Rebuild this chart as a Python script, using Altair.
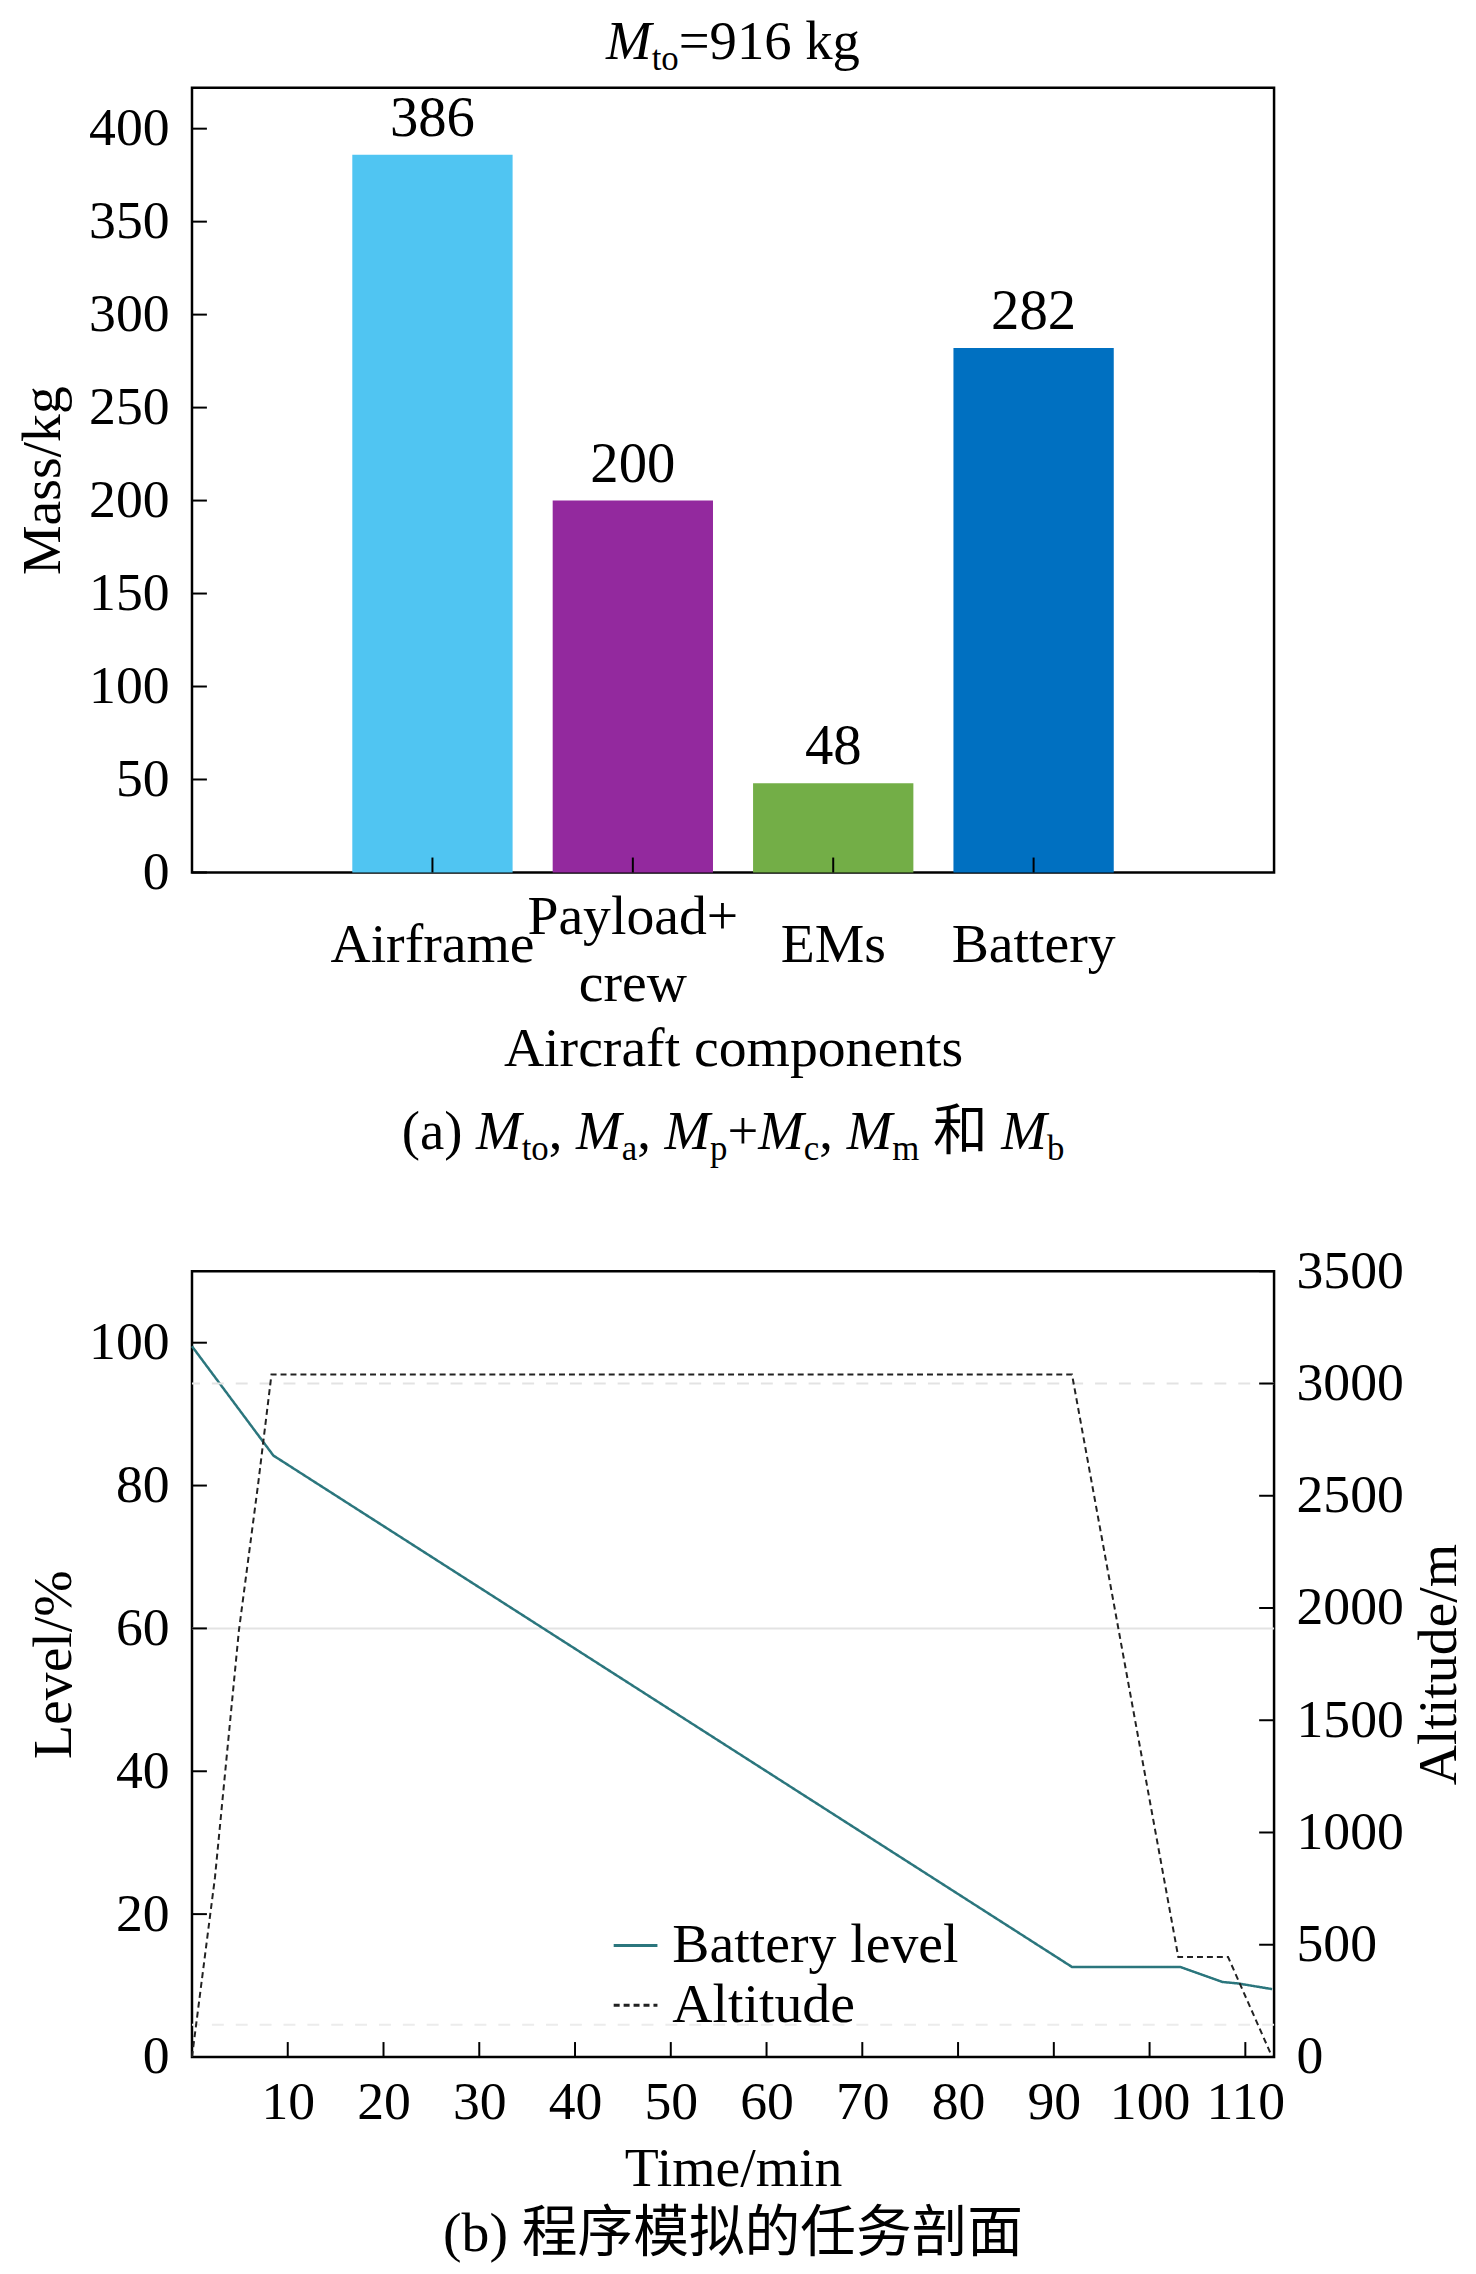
import altair as alt
import pandas as pd

# ---------------- data ----------------
components = ["Airframe", "Payload+crew", "EMs", "Battery"]
xlabel_line1 = ["Airframe", "Payload+", "EMs", "Battery"]
xlabel_line2 = ["", "crew", "", ""]
masses = [386, 200, 48, 282]
bar_colors = ["#50C5F2", "#93299E", "#73AE47", "#0070C1"]
mass_ticks = [0, 50, 100, 150, 200, 250, 300, 350, 400]

batt_time = [0, 7.5, 8.5, 91.9, 103.2, 107.6, 109.2, 112.8]
batt_level = [99.5, 86.0, 84.2, 12.6, 12.6, 10.5, 10.3, 9.5]
alt_time = [0, 2.4, 4.9, 6.9, 8.3, 91.9, 103.0, 108.2, 112.8]
alt_value = [0, 800, 1900, 2550, 3040, 3040, 445, 445, 0]

time_ticks = [10, 20, 30, 40, 50, 60, 70, 80, 90, 100, 110]
level_ticks = [0, 20, 40, 60, 80, 100]
altitude_ticks = [0, 500, 1000, 1500, 2000, 2500, 3000, 3500]
series_names = ["Battery level", "Altitude"]

title_a = [("M", "it"), ("to", "sub"), ("=916 kg", "rm")]
caption_a = [("(a) ", "rm"), ("M", "it"), ("to", "sub"), (", ", "rm"), ("M", "it"), ("a", "sub"),
             (", ", "rm"), ("M", "it"), ("p", "sub"), ("+", "rm"), ("M", "it"), ("c", "sub"),
             (", ", "rm"), ("M", "it"), ("m", "sub"), (" ", "rm"), ("和", "cjk"), (" ", "rm"),
             ("M", "it"), ("b", "sub")]
caption_b = "(b) 程序模拟的任务剖面"

# ---------------- styling ----------------
SERIF = "Liberation Serif"
CJK = "Noto Sans CJK SC"
MIXED = "Liberation Serif, Noto Sans CJK SC"
FS = 54      # tick labels
FT = 56      # titles, category labels, legend, captions
W1, H1 = 1088, 789
W2, H2 = 1088, 790

STYLES = {
    "rm": dict(font=SERIF, fontSize=55, fontStyle="normal", dy=0),
    "it": dict(font=SERIF, fontSize=55, fontStyle="italic", dy=0),
    "sub": dict(font=SERIF, fontSize=35, fontStyle="normal", dy=17),
    "cjk": dict(font=CJK, fontSize=55, fontStyle="normal", dy=0),
}
REG_W = {' ': 0.25, '(': 0.333, ')': 0.333, 'a': 0.444, 'b': 0.5, 'c': 0.444, 'm': 0.778,
         'o': 0.5, 'p': 0.5, 't': 0.278, ',': 0.25, '+': 0.564, '=': 0.564, 'k': 0.5, 'g': 0.5}
IT_W = {'M': 0.833}


def seg_width(t, s):
    size = STYLES[s]["fontSize"]
    tot = 0.0
    for ch in t:
        if s == "cjk" and ord(ch) > 255:
            tot += 1.0
        elif s == "it":
            tot += IT_W.get(ch, 0.5)
        else:
            tot += REG_W.get(ch, 0.5 if ord(ch) < 256 else 1.0)
    return tot * size


def text_layers(pieces, center_x, y):
    total = sum(seg_width(t, s) for t, s in pieces)
    x = center_x - total / 2
    out = []
    for t, s in pieces:
        w = seg_width(t, s)
        txt = t.strip()
        if txt:
            lead = (len(t) - len(t.lstrip())) * 0.25 * STYLES[s]["fontSize"]
            st = STYLES[s]
            out.append(
                alt.Chart(pd.DataFrame({"t": [txt]}))
                .mark_text(align="left", baseline="middle", font=st["font"], fontSize=st["fontSize"],
                           fontStyle=st["fontStyle"], color="black")
                .encode(text="t:N", x=alt.value(x + lead), y=alt.value(y + st["dy"]))
            )
        x += w
    return out


# ---------------- chart (a) ----------------
bars_df = pd.DataFrame({"comp": components, "mass": masses, "l1": xlabel_line1, "l2": xlabel_line2})
yticks_df = pd.DataFrame({"mass": mass_ticks})

x_axis_a = alt.Axis(title="Aircraft components", labels=False, titleFontSize=FT,
                    titleY=177, titleBaseline="middle", titleAlign="center")
x_enc_a = alt.X("comp:N", sort=components,
                scale=alt.Scale(paddingInner=0.2, paddingOuter=0.8), axis=x_axis_a)
y_axis_a = alt.Axis(title="Mass/kg", values=mass_ticks, labelPadding=23, titleFontSize=FT,
                    titleAngle=270, titleX=-150, titleY=H1 / 2, titleAlign="center",
                    titleBaseline="middle")
y_enc_a = alt.Y("mass:Q", scale=alt.Scale(domain=[0, 422], nice=False), axis=y_axis_a)

bars = alt.Chart(bars_df).mark_bar().encode(
    x=x_enc_a, y=y_enc_a,
    color=alt.Color("comp:N", scale=alt.Scale(domain=components, range=bar_colors), legend=None),
)
bar_labels = alt.Chart(bars_df).mark_text(dy=-36, baseline="middle", font=SERIF, fontSize=57,
                                          color="black").encode(x=x_enc_a, y=y_enc_a, text="mass:Q")
ytick_a = alt.Chart(yticks_df).mark_rule(color="black", strokeWidth=2).encode(
    y=y_enc_a, x=alt.value(0), x2=alt.value(15))
xtick_a = alt.Chart(bars_df).mark_rule(color="black", strokeWidth=2).encode(
    x=x_enc_a, y=alt.value(H1 - 15), y2=alt.value(H1))

lab_kw = dict(baseline="middle", font=SERIF, fontSize=FT, color="black")
xlab_single = alt.Chart(bars_df).transform_filter("datum.l2 == ''").mark_text(**lab_kw).encode(
    x=x_enc_a, y=alt.value(H1 + 73), text="l1:N")
xlab_top = alt.Chart(bars_df).transform_filter("datum.l2 != ''").mark_text(**lab_kw).encode(
    x=x_enc_a, y=alt.value(H1 + 45), text="l1:N")
xlab_bot = alt.Chart(bars_df).transform_filter("datum.l2 != ''").mark_text(**lab_kw).encode(
    x=x_enc_a, y=alt.value(H1 + 112), text="l2:N")

chart_a = alt.layer(
    bars, bar_labels, ytick_a, xtick_a, xlab_single, xlab_top, xlab_bot,
    *text_layers(title_a, W1 / 2, -46),
    *text_layers(caption_a, W1 / 2, H1 + 261),
).properties(width=W1, height=H1)

# ---------------- chart (b) ----------------
batt_df = pd.DataFrame({"time": batt_time, "level": batt_level, "series": series_names[0]})
alt_df = pd.DataFrame({"time": alt_time, "altitude": alt_value, "series": series_names[1]})

x_axis_b = alt.Axis(title="Time/min", values=time_ticks, format="d", labelBaseline="middle",
                    labelPadding=46, titleFontSize=FT, titleY=112, titleBaseline="middle",
                    titleAlign="center")
x_enc_b = alt.X("time:Q", scale=alt.Scale(domain=[0, 113], nice=False, zero=False), axis=x_axis_b)

yl_axis = alt.Axis(title="Level/%", values=level_ticks, format="d", labelPadding=23, titleFontSize=FT,
                   titleAngle=270, titleX=-139, titleY=H2 / 2, titleAlign="center",
                   titleBaseline="middle")
yl_enc = alt.Y("level:Q", scale=alt.Scale(domain=[0, 110], nice=False), axis=yl_axis)
yr_axis = alt.Axis(title="Altitude/m", orient="right", values=altitude_ticks, format="d",
                   labelPadding=22, titleFontSize=FT, titleAngle=270, titleX=165, titleY=H2 / 2,
                   titleAlign="center", titleBaseline="middle")
yr_enc = alt.Y("altitude:Q", scale=alt.Scale(domain=[0, 3500], nice=False), axis=yr_axis)

legend_b = alt.Legend(orient="none", legendX=418, legendY=650, title=None, symbolType="stroke",
                      symbolSize=1936, symbolStrokeWidth=3, labelFont=SERIF, labelFontSize=FT,
                      labelColor="black", labelOffset=9, rowPadding=4, padding=0, labelLimit=0)
color_enc = alt.Color("series:N", scale=alt.Scale(domain=series_names, range=["#2b767d", "#222222"]),
                      legend=legend_b)
dash_enc = alt.StrokeDash("series:N", scale=alt.Scale(domain=series_names, range=[[1, 0], [6, 4]]),
                          legend=legend_b)

grid60 = alt.Chart(pd.DataFrame({"level": [60]})).mark_rule(color="#e3e3e3", strokeWidth=2).encode(
    y=yl_enc)
grid_low = alt.Chart(pd.DataFrame({"level": [4.5]})).mark_rule(
    color="#ececec", strokeWidth=2, strokeDash=[12, 12]).encode(y=yl_enc)
batt_line = alt.Chart(batt_df).mark_line(strokeWidth=2.5).encode(
    x=x_enc_b, y=yl_enc, color=color_enc, strokeDash=dash_enc, order="time:Q")
ltick = alt.Chart(pd.DataFrame({"level": level_ticks})).mark_rule(color="black", strokeWidth=2).encode(
    y=yl_enc, x=alt.value(0), x2=alt.value(15))
xtick_b = alt.Chart(pd.DataFrame({"time": time_ticks})).mark_rule(color="black", strokeWidth=2).encode(
    x=x_enc_b, y=alt.value(H2 - 15), y2=alt.value(H2))
cap_b = alt.Chart(pd.DataFrame({"t": [caption_b]})).mark_text(
    align="center", baseline="middle", font=MIXED, fontSize=56, color="black").encode(
    text="t:N", x=alt.value(W2 / 2), y=alt.value(H2 + 178))

grid3000 = alt.Chart(pd.DataFrame({"altitude": [3000]})).mark_rule(
    color="#e3e3e3", strokeWidth=2, strokeDash=[12, 12]).encode(y=yr_enc)
alt_line = alt.Chart(alt_df).mark_line(strokeWidth=2).encode(
    x=x_enc_b, y=yr_enc, color=color_enc, strokeDash=dash_enc, order="time:Q")
rtick = alt.Chart(pd.DataFrame({"altitude": altitude_ticks})).mark_rule(color="black", strokeWidth=2).encode(
    y=yr_enc, x=alt.value(W2 - 15), x2=alt.value(W2))

left_group = alt.layer(grid60, grid_low, batt_line, ltick, xtick_b, cap_b)
right_group = alt.layer(grid3000, alt_line, rtick)

chart_b = alt.layer(left_group, right_group).resolve_scale(y="independent").properties(
    width=W2, height=H2)

chart = (
    alt.vconcat(chart_a, chart_b, spacing=74)
    .resolve_scale(color="independent", strokeDash="independent")
    .resolve_legend(color="independent", strokeDash="independent")
    .properties(padding={"left": 5, "top": -1, "right": 0, "bottom": 0}, background="white")
    .configure_view(stroke="black", strokeWidth=2.5)
    .configure_axis(domain=False, ticks=False, grid=False, labelFont=SERIF, labelFontSize=FS,
                    labelColor="black", titleFont=SERIF, titleFontSize=FT, titleFontWeight="normal",
                    titleColor="black", labelFlush=False, labelOverlap=False, labelBound=False,
                    labelLimit=0)
)

chart.save("out.html", embed_options={"renderer": "svg", "actions": False})
